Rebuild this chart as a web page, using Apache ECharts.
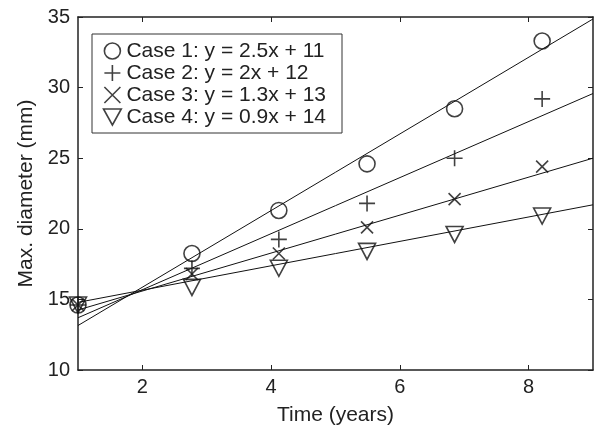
<!DOCTYPE html>
<html>
<head>
<meta charset="utf-8">
<script src="https://cdn.jsdelivr.net/npm/echarts@6/dist/echarts.min.js"></script>
<style>html,body{margin:0;padding:0;background:#fff}#c{width:598px;height:431px}</style>
</head>
<body>
<div id="c"></div>
<script>
var caseNames = ['Case 1: y = 2.5x + 11', 'Case 2: y = 2x + 12', 'Case 3: y = 1.3x + 13', 'Case 4: y = 0.9x + 14'];
var years = [1.0, 2.77, 4.12, 5.49, 6.85, 8.21];
var case1 = [14.6, 18.25, 21.3, 24.6, 28.5, 33.3];
var case2 = [14.6, 17.2, 19.25, 21.8, 25.0, 29.2];
var case3 = [14.6, 16.8, 18.25, 20.1, 22.1, 24.4];
var case4 = [14.6, 15.85, 17.2, 18.4, 19.6, 20.9];
var fitX = [1, 9];
var fitStart = [13.15, 13.7, 14.25, 14.79];
var fitEnd = [34.86, 29.58, 25.0, 21.7];
var xTicks = [2, 4, 6, 8];
var yTicks = [10, 15, 20, 25, 30, 35];

var symbols = [
  'circle',
  'path://M0,-1L0,1M-1,0L1,0',
  'path://M-1,-1L1,1M1,-1L-1,1',
  'path://M-1,-0.9L1,-0.9L0,0.9Z'
];
var sizes = [16, 16, 12, [17, 16]];
var allCases = [case1, case2, case3, case4];
var font = 'Liberation Sans, Arial, sans-serif';
var markStyle = {color: 'none', borderColor: '#111', borderWidth: 1.6};

var series = [];
for (var i = 0; i < 4; i++) {
  series.push({
    type: 'line', silent: true, showSymbol: false, z: 2,
    data: [[fitX[0], fitStart[i]], [fitX[1], fitEnd[i]]],
    lineStyle: {color: '#111', width: 1}
  });
}
for (var j = 0; j < 4; j++) {
  series.push({
    type: 'scatter', name: caseNames[j], symbol: symbols[j], symbolSize: sizes[j], z: 3,
    data: years.map(function (x, k) { return [x, allCases[j][k]]; }),
    itemStyle: markStyle
  });
}

var tickLabel = {fontFamily: font, fontSize: 20, color: '#222'};
var chart = echarts.init(document.getElementById('c'));
chart.setOption({
  animation: false,
  grid: {left: 78, right: 5, top: 17, bottom: 58, containLabel: false},
  legend: {
    orient: 'vertical', left: 92, top: 34,
    padding: [6, 16, 5, 9], itemGap: 0,
    itemWidth: 18, itemHeight: 16,
    borderColor: '#333', borderWidth: 1, backgroundColor: '#fff',
    data: caseNames.map(function (n, k) { return {name: n, icon: symbols[k], itemStyle: markStyle}; }),
    textStyle: {fontFamily: font, fontSize: 21, color: '#222', lineHeight: 22, padding: [0, 0, 0, 0]}
  },
  xAxis: [{
    type: 'value', min: 1, max: 9, position: 'bottom',
    name: 'Time (years)', nameLocation: 'middle', nameGap: 35,
    nameTextStyle: {fontFamily: font, fontSize: 21, color: '#222'},
    axisLine: {lineStyle: {color: '#222', width: 1.5}},
    axisTick: {inside: true, length: 5, customValues: xTicks, lineStyle: {color: '#222'}},
    axisLabel: Object.assign({customValues: xTicks, margin: 7}, tickLabel),
    splitLine: {show: false}
  }, {
    type: 'value', min: 1, max: 9, position: 'top',
    axisLine: {onZero: false, lineStyle: {color: '#222', width: 1.5}},
    axisTick: {inside: true, length: 5, customValues: xTicks, lineStyle: {color: '#222'}},
    axisLabel: {show: false}, splitLine: {show: false}
  }],
  yAxis: [{
    type: 'value', min: 10, max: 35, interval: 5, position: 'left',
    name: 'Max. diameter (mm)', nameLocation: 'middle', nameGap: 41,
    nameTextStyle: {fontFamily: font, fontSize: 21, color: '#222'},
    axisLine: {show: true, lineStyle: {color: '#222', width: 1.5}},
    axisTick: {show: true, inside: true, length: 5, customValues: yTicks, lineStyle: {color: '#222'}},
    axisLabel: Object.assign({margin: 8, customValues: yTicks}, tickLabel),
    splitLine: {show: false}
  }, {
    type: 'value', min: 10, max: 35, interval: 5, position: 'right',
    axisLine: {show: true, onZero: false, lineStyle: {color: '#222', width: 1.5}},
    axisTick: {show: true, inside: true, length: 5, customValues: yTicks, lineStyle: {color: '#222'}},
    axisLabel: {show: false}, splitLine: {show: false}
  }],
  series: series
});
</script>
</body>
</html>
